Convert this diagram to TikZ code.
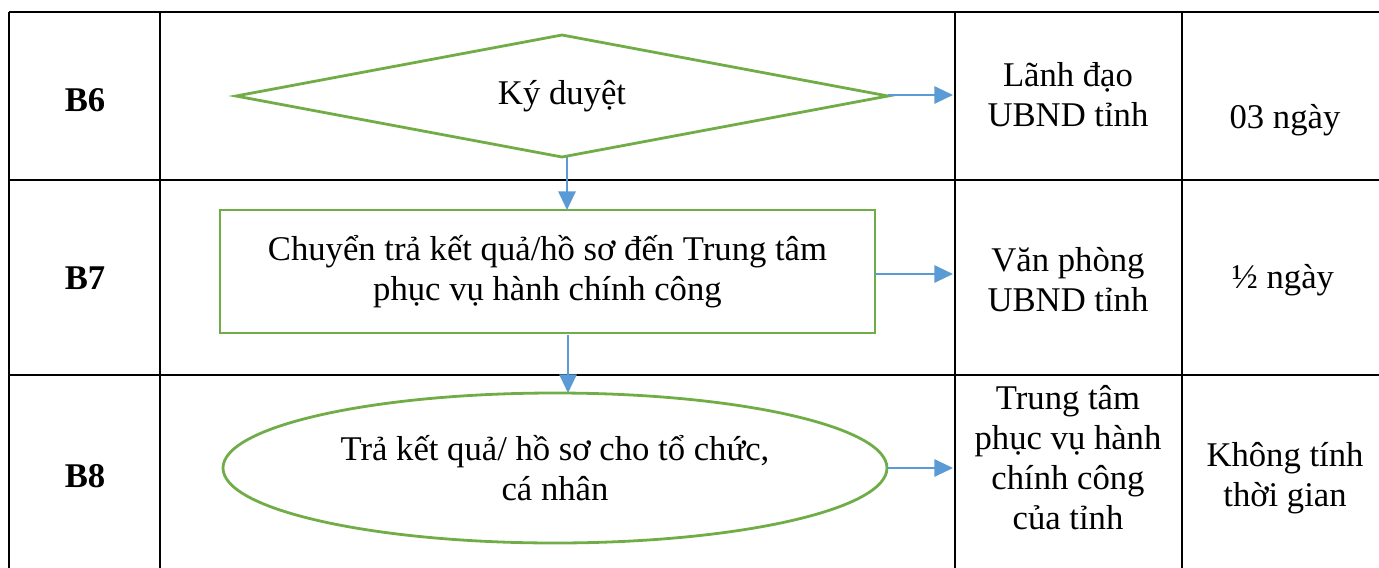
\documentclass[tikz,border=0pt]{standalone}
\usepackage{fontspec}
\setmainfont{Liberation Serif}
\usetikzlibrary{shapes.geometric,arrows.meta}
\definecolor{flowgreen}{HTML}{70AD47}
\definecolor{flowblue}{HTML}{5B9BD5}
\begin{document}
\begin{tikzpicture}[x=0.75pt,y=-0.75pt,
  grid/.style={draw=black,line width=1.4pt},
  shp/.style={draw=flowgreen,line width=2.1pt,inner sep=0pt,outer sep=0pt,align=center,
    font=\fontsize{26pt}{30pt}\selectfont},
  conn/.style={draw=flowblue,line width=1.5pt,-{Triangle[length=14pt,width=13pt]}},
  celltxt/.style={align=center,inner sep=0pt,font=\fontsize{26pt}{30pt}\selectfont},
  steplbl/.style={inner sep=0pt,font=\fontsize{26pt}{30pt}\selectfont\bfseries}]
\useasboundingbox (0,0) rectangle (1379,568);
% table grid
\draw[grid] (9,12) -- (1379,12);
\draw[grid] (9,180) -- (1379,180);
\draw[grid] (9,375) -- (1379,375);
\draw[grid] (9,12) -- (9,568);
\draw[grid] (160,12) -- (160,568);
\draw[grid] (955,12) -- (955,568);
\draw[grid] (1182,12) -- (1182,568);
% step labels
\node[steplbl] (b6) at (85,100) {B6};
\node[steplbl] (b7) at (85,278) {B7};
\node[steplbl] (b8) at (85,476) {B8};
% flow shapes
\node[shp,diamond,aspect=5.34,minimum width=489pt,minimum height=91.5pt] (dia) at (562,96) {\raisebox{2pt}{Ký duyệt}};
\node[shp,rectangle,minimum width=491.25pt,minimum height=92.25pt] (rect) at (547.5,271.5)
  {Chuyển trả kết quả/hồ sơ đến Trung tâm\\phục vụ hành chính công};
\node[shp,ellipse,minimum width=498pt,minimum height=112.5pt] (ell) at (555,468)
  {Trả kết quả/ hồ sơ cho tổ chức,\\cá nhân};
% right columns
\node[celltxt] (who6) at (1068,95) {Lãnh đạo\\UBND tỉnh};
\node[celltxt] (t6) at (1285,120) {03 ngày};
\node[celltxt] (who7) at (1068,280) {Văn phòng\\UBND tỉnh};
\node[celltxt] (t7) at (1283,280) {½ ngày};
\node[celltxt] (who8) at (1068,458) {Trung tâm\\phục vụ hành\\chính công\\của tỉnh};
\node[celltxt] (t8) at (1285,478) {Không tính\\thời gian};
% connector end points
\coordinate (e6) at (953,95);
\coordinate (e7) at (953,274);
\coordinate (e8) at (953,468);
\coordinate (r7) at (875,274);
\coordinate (v2) at (567,210);
\coordinate (v3) at (568,335);
\coordinate (v4) at (568,393);
% connectors
\draw[conn] (dia.east |- e6) -- (e6);
\draw[conn] (rect.east |- r7) -- (e7);
\draw[conn] (ell.east) -- (e8);
\draw[conn] (dia.south -| v2) -- (v2);
\draw[conn] (v3) -- (v4);
\end{tikzpicture}
\end{document}
